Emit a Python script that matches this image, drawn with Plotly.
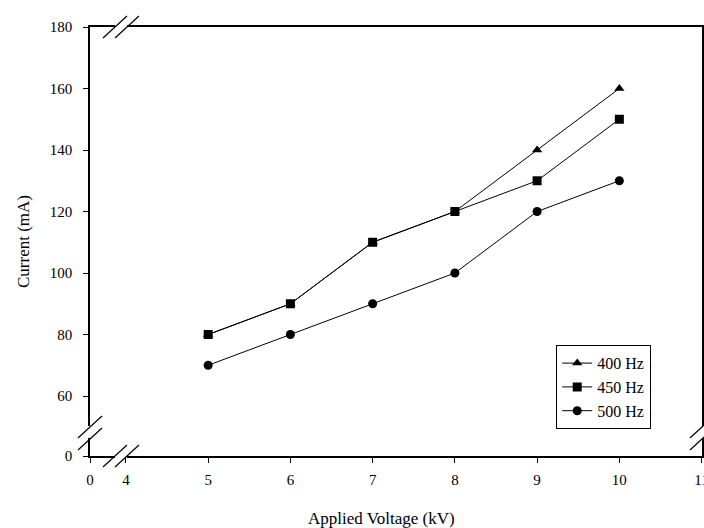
import plotly.graph_objects as go

# ---- data ----
voltage = [5, 6, 7, 8, 9, 10]
cur_400 = [80, 90, 110, 120, 140, 160]
cur_450 = [80, 90, 110, 120, 130, 150]
cur_500 = [70, 80, 90, 100, 120, 130]
series_names = ["400 Hz", "450 Hz", "500 Hz"]

x_ticks = [4, 5, 6, 7, 8, 9, 10, 11]
x_ticktext = ["4", "5", "6", "7", "8", "9", "10", "11"]
y_ticks = [60, 80, 100, 120, 140, 160, 180]
y_ticktext = ["60", "80", "100", "120", "140", "160", "180"]

# broken-axis: "0" shown at the left/bottom end of the visible range
X_ZERO_POS = 3.563
Y_ZERO_POS = 40.5

FONT = "Liberation Serif"

fig = go.Figure()
symbols = ["triangle-up", "square", "circle"]
for name, ys, sym in zip(series_names, [cur_400, cur_450, cur_500], symbols):
    fig.add_trace(go.Scatter(
        x=voltage, y=ys, mode="lines+markers", name=name,
        line=dict(color="black", width=1),
        marker=dict(symbol=sym, size=9, color="black"),
        cliponaxis=False,
    ))

L, R, T, B = 90, 2, 27, 72
W, H = 704, 528
pw, ph = W - L - R, H - T - B


def px(x, y):
    return (x - L) / pw, (H - B - y) / ph


shapes = []


def seg(x0, y0, x1, y1, color="black", width=1.2):
    a, b = px(x0, y0)
    c, d = px(x1, y1)
    shapes.append(dict(type="line", xref="paper", yref="paper", x0=a, y0=b, x1=c, y1=d,
                       line=dict(color=color, width=width), layer="above"))


def gap(x0, y0, x1, y1):
    a, b = px(x0, y0)
    c, d = px(x1, y1)
    shapes.append(dict(type="rect", xref="paper", yref="paper", x0=a, y0=b, x1=c, y1=d,
                       fillcolor="white", line=dict(width=0), layer="above"))


# horizontal breaks (top and bottom axis lines)
for yc in (27, 456):
    gap(115, yc - 2, 127, yc + 2)
    seg(103, yc + 11, 127, yc - 11)
    seg(115, yc + 11, 139, yc - 11)
# vertical breaks (left and right axis lines)
for xc in (90, 702):
    gap(xc - 2, 426, xc + 2, 438)
    seg(xc - 12, 438, xc + 12, 416)
    seg(xc - 12, 450, xc + 12, 428)

tx, ty = px(381, 518)
fig.update_layout(
    width=W, height=H,
    margin=dict(l=L, r=R, t=T, b=B, autoexpand=False),
    paper_bgcolor="white", plot_bgcolor="white",
    font=dict(family=FONT, size=15, color="black"),
    shapes=shapes,
    showlegend=True,
    legend=dict(
        x=px(556, 0)[0], y=px(0, 345)[1], xanchor="left", yanchor="top",
        bordercolor="black", borderwidth=1.2, bgcolor="white",
        font=dict(family=FONT, size=16, color="black"),
        entrywidth=72, entrywidthmode="pixels",
        tracegroupgap=2,
    ),
    annotations=[dict(
        text="Applied Voltage (kV)", xref="paper", yref="paper", x=tx, y=ty,
        xanchor="center", yanchor="middle", showarrow=False,
        font=dict(family=FONT, size=17, color="black"),
    )],
)
fig.update_xaxes(
    range=[X_ZERO_POS, 11.005],
    automargin=False,
    tickvals=[X_ZERO_POS] + x_ticks, ticktext=["0"] + x_ticktext,
    tickfont=dict(family=FONT, size=15, color="black"),
    ticklabeloverflow="allow",
    ticks="outside", ticklen=5, tickcolor="black", tickwidth=1,
    ticklabelstandoff=4,
    showline=True, linecolor="black", linewidth=1.5, mirror=True,
    showgrid=False, zeroline=False,
)
fig.update_yaxes(
    range=[Y_ZERO_POS, 180],
    automargin=False,
    tickvals=[Y_ZERO_POS] + y_ticks, ticktext=["0"] + y_ticktext,
    tickfont=dict(family=FONT, size=15, color="black"),
    ticks="outside", ticklen=5, tickcolor="black", tickwidth=1,
    ticklabelstandoff=8,
    showline=True, linecolor="black", linewidth=1.5, mirror=True,
    showgrid=False, zeroline=False,
    title=dict(text="Current (mA)", font=dict(family=FONT, size=17, color="black"), standoff=16),
)

fig.write_html("out.html")
